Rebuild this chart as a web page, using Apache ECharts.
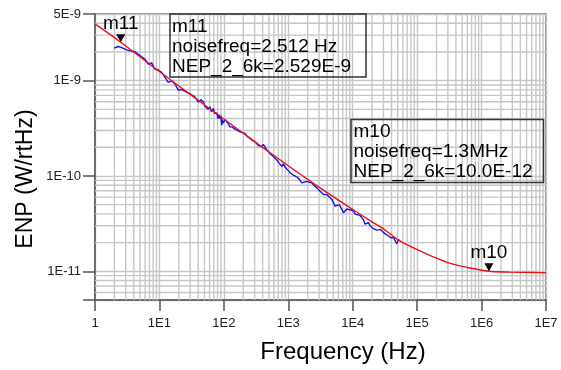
<!DOCTYPE html>
<html>
<head>
<meta charset="utf-8">
<script src="https://cdn.jsdelivr.net/npm/echarts@6/dist/echarts.min.js"></script>
<style>
html,body{margin:0;padding:0;background:#fff;}
#chart{width:561px;height:370px;}
</style>
</head>
<body>
<div id="chart"></div>
<script>
// ---- data ----
const freqRed = [1, 2.512, 10, 31.6, 100, 316, 1000, 3162, 1e4, 2e4, 3.16e4, 5.45e4, 1e5, 1.77e5, 3.25e5, 5.9e5, 1.3e6, 2.76e6, 6.3e6, 1e7];
const nepRed  = [3.94e-9, 2.529e-9, 1.245e-9, 7.0e-10, 3.96e-10, 2.24e-10, 1.28e-10, 7.45e-11, 4.45e-11, 3.3e-11, 2.72e-11, 2.07e-11, 1.69e-11, 1.42e-11, 1.21e-11, 1.1e-11, 1.0e-11, 9.8e-12, 9.7e-12, 9.65e-12];

const freqBlue = [2.0, 2.3, 2.6, 3.1, 3.5, 4.17, 4.7, 5.6, 6.2, 6.7, 7.6, 8.5, 9.5, 10.8, 12.2, 13.7, 15.5, 17.5, 19.7, 22, 25, 29.9, 35.7, 40.2, 44, 48.1, 51, 54.2, 57, 61.1, 64, 68.7, 72, 77.6, 81, 84, 87.3, 90, 92.7, 95, 98.2, 105, 111, 118, 125, 135, 149, 160, 179, 195, 213, 230, 255, 280, 305, 340, 388, 410, 436, 460, 491, 520, 554, 585, 624, 660, 702, 740, 793, 840, 892, 950, 1005, 1070, 1133, 1200, 1276, 1350, 1436, 1530, 1622, 1716, 1937, 2100, 2317, 2500, 2771, 3121, 3511, 3963, 4735, 5330, 5664, 6200, 6773, 7200, 7622, 8100, 8577, 9300, 10260, 11000, 11580, 12700, 13840, 14700, 15590, 17540, 18600, 19810, 21000, 22280, 23600, 25070, 27000, 30000, 32500, 35810, 39000, 42850, 45500, 48390, 51000, 54450];
const nepBlue  = [2.2e-9, 2.28e-9, 2.22e-9, 2.10e-9, 2.05e-9, 2.01e-9, 1.89e-9, 1.74e-9, 1.62e-9, 1.49e-9, 1.53e-9, 1.32e-9, 1.3e-9, 1.22e-9, 1.08e-9, 9.6e-10, 1.0e-9, 9.2e-10, 7.9e-10, 8.1e-10, 7.7e-10, 7.27e-10, 6.71e-10, 5.96e-10, 6.3e-10, 6.0e-10, 5.4e-10, 5.6e-10, 5.0e-10, 5.3e-10, 4.7e-10, 5.1e-10, 4.5e-10, 4.6e-10, 4.0e-10, 4.4e-10, 4.0e-10, 4.3e-10, 3.41e-10, 3.9e-10, 3.6e-10, 3.9e-10, 3.75e-10, 3.5e-10, 3.28e-10, 3.25e-10, 3.1e-10, 3.2e-10, 2.9e-10, 2.85e-10, 2.8e-10, 2.6e-10, 2.48e-10, 2.35e-10, 2.29e-10, 2.1e-10, 2.03e-10, 2.15e-10, 2.0e-10, 1.9e-10, 1.88e-10, 1.72e-10, 1.73e-10, 1.6e-10, 1.54e-10, 1.48e-10, 1.40e-10, 1.33e-10, 1.26e-10, 1.34e-10, 1.24e-10, 1.18e-10, 1.16e-10, 1.08e-10, 1.12e-10, 1.02e-10, 1.03e-10, 9.8e-11, 9.54e-11, 9.0e-11, 8.45e-11, 8.12e-11, 8.79e-11, 8.6e-11, 8.5e-11, 8.0e-11, 7.5e-11, 6.92e-11, 6.4e-11, 6.4e-11, 5.68e-11, 4.83e-11, 4.65e-11, 5.0e-11, 4.47e-11, 4.1e-11, 4.29e-11, 4.5e-11, 4.3e-11, 4.4e-11, 4.29e-11, 3.95e-11, 3.8e-11, 3.9e-11, 3.66e-11, 3.45e-11, 3.12e-11, 3.25e-11, 3.0e-11, 3.12e-11, 2.8e-11, 2.88e-11, 2.7e-11, 2.66e-11, 2.75e-11, 2.56e-11, 2.45e-11, 2.36e-11, 2.25e-11, 2.27e-11, 2.1e-11, 1.94e-11, 2.15e-11, 2.09e-11];

const markerNames = ['m11', 'm10'];
const markerFreq  = [2.512, 1.3e6];
const markerNEP   = [2.529e-9, 10.0e-12];

const xTickLabels = ['1', '1E1', '1E2', '1E3', '1E4', '1E5', '1E6', '1E7'];
const yTickLabels = ['1E-11', '1E-10', '1E-9'];
const yTopLabel = '5E-9';

const box1Lines = ['m11', 'noisefreq=2.512 Hz', 'NEP_2_6k=2.529E-9'];
const box2Lines = ['m10', 'noisefreq=1.3MHz', 'NEP_2_6k=10.0E-12'];

// ---- build ----
const FONT = '"Liberation Sans", Arial, sans-serif';
const xMin = 1, xMax = 1e7, yMin = 5e-12, yMax = 5e-9;

function zip(a, b) { return a.map((v, i) => [v, b[i]]); }

// minor grid lines (2..9 within each decade), built as axis-spanning segments
const minorXData = [], minorYData = [];
for (let e = 0; e < 7; e++) for (let m = 2; m <= 9; m++) {
  const v = m * Math.pow(10, e);
  minorXData.push([v, yMin], [v, yMax], '-');
}
for (let e = -12; e <= -9; e++) for (let m = 2; m <= 9; m++) {
  const v = m * Math.pow(10, e);
  if (v > yMin * 1.0001 && v < yMax * 0.9999) minorYData.push([xMin, v], [xMax, v], '-');
}

const gridColor = '#c6c6c6';
const gridWidth = 1.4;
const axisColor = '#555';

const chart = echarts.init(document.getElementById('chart'), null, { renderer: 'canvas' });
chart.setOption({
  animation: false,
  backgroundColor: '#fff',
  grid: { left: 95, right: 15, top: 14, bottom: 70, show: true, borderColor: '#666', borderWidth: 1.5, backgroundColor: 'transparent' },
  xAxis: {
    type: 'log', logBase: 10, min: xMin, max: xMax,
    axisLine: { onZero: false, lineStyle: { color: axisColor, width: 1.5 } },
    axisTick: { show: true, length: 11, lineStyle: { color: axisColor, width: 1.5 } },
    axisLabel: {
      margin: 17, fontSize: 13, color: '#222', fontFamily: FONT,
      showMinLabel: true, showMaxLabel: true,
      formatter: function (v) {
        const e = Math.round(Math.log10(v));
        return xTickLabels[e] !== undefined ? xTickLabels[e] : '';
      }
    },
    splitLine: { show: true, lineStyle: { color: gridColor, width: gridWidth } }
  },
  yAxis: {
    type: 'log', logBase: 10, min: yMin, max: yMax,
    axisLine: { onZero: false, lineStyle: { color: axisColor, width: 1.5 } },
    axisTick: { show: true, length: 12, lineStyle: { color: axisColor, width: 1.5 } },
    axisLabel: {
      margin: 14, fontSize: 13, color: '#222', fontFamily: FONT,
      showMinLabel: true, showMaxLabel: true,
      formatter: function (v) {
        const lg = Math.log10(v);
        const r = Math.round(lg);
        if (Math.abs(lg - r) < 1e-6) {
          const idx = r + 11;
          return yTickLabels[idx] !== undefined ? yTickLabels[idx] : '';
        }
        if (Math.abs(v - yMax) / yMax < 1e-4) return yTopLabel;
        return '';
      }
    },
    splitLine: { show: true, lineStyle: { color: gridColor, width: gridWidth } }
  },
  series: [
    {
      type: 'line', name: 'minorX', data: minorXData, showSymbol: false, silent: true, connectNulls: false,
      lineStyle: { color: gridColor, width: gridWidth }, z: 1
    },
    {
      type: 'line', name: 'minorY', data: minorYData, showSymbol: false, silent: true, connectNulls: false,
      lineStyle: { color: gridColor, width: gridWidth }, z: 1
    },
    {
      type: 'line', name: 'meas', data: zip(freqBlue, nepBlue), showSymbol: false,
      lineStyle: { color: '#1414e6', width: 1.4 }, z: 3
    },
    {
      type: 'line', name: 'model', data: zip(freqRed, nepRed), showSymbol: false, smooth: 0.3,
      lineStyle: { color: '#ee1111', width: 1.4 }, z: 4,
      markPoint: {
        symbol: 'triangle', symbolSize: [9, 8], symbolRotate: 180, symbolOffset: [0, -4],
        itemStyle: { color: '#000' },
        label: { show: true, position: 'top', distance: 1, formatter: '{b}', fontSize: 19, color: '#000', fontFamily: FONT },
        data: markerNames.map((n, i) => ({ name: n, coord: [markerFreq[i], markerNEP[i]] }))
      }
    }
  ],
  graphic: [
    { type: 'rect', shape: { x: 170, y: 14, width: 196, height: 63 }, style: { fill: 'none', stroke: '#333', lineWidth: 1.5 }, z: 10 },
    { type: 'text', x: 172, y: 16.5, style: { text: box1Lines.join('\n'), font: '19px ' + FONT, lineHeight: 20, fill: '#000', verticalAlign: 'top' }, z: 10 },
    { type: 'rect', shape: { x: 351, y: 119.5, width: 192.5, height: 63 }, style: { fill: 'none', stroke: '#333', lineWidth: 1.5 }, z: 10 },
    { type: 'text', x: 353.5, y: 122, style: { text: box2Lines.join('\n'), font: '19px ' + FONT, lineHeight: 20, fill: '#000', verticalAlign: 'top' }, z: 10 },
    { type: 'text', x: 343, y: 352, style: { text: 'Frequency (Hz)', font: '24px ' + FONT, fill: '#000', align: 'center', verticalAlign: 'middle' }, z: 10 },
    { type: 'text', x: 26, y: 179, rotation: Math.PI / 2, style: { text: 'ENP (W/rtHz)', font: '23px ' + FONT, fill: '#000', align: 'center', verticalAlign: 'middle' }, z: 10 }
  ]
});
</script>
</body>
</html>
